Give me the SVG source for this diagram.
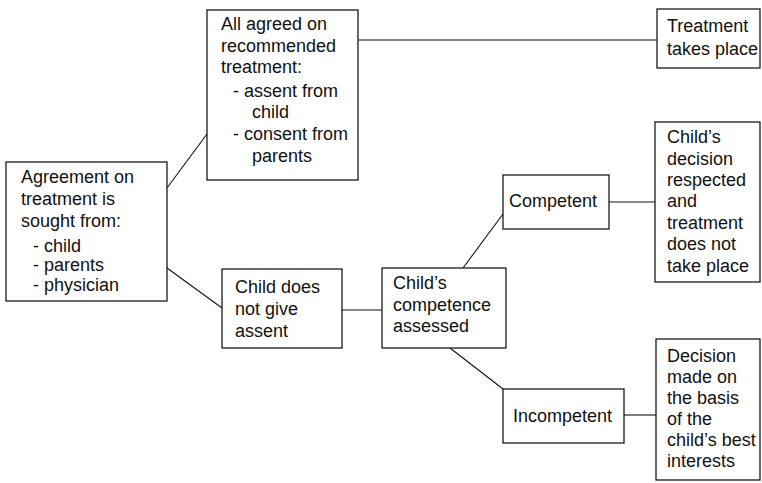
<svg xmlns="http://www.w3.org/2000/svg" width="762" height="483" viewBox="0 0 762 483">
  <style>
    .box { fill: #fff; stroke: #1a1a1a; stroke-width: 1.3; }
    .link { fill: none; stroke: #111; stroke-width: 1.1; }
    text { font-family: "Liberation Sans", Arial, Helvetica, sans-serif; font-size: 18px; fill: #111; }
  </style>
  <rect width="762" height="483" fill="#fff"/>

  <!-- connectors -->
  <g id="connectors">
    <line class="link" x1="167" y1="188" x2="207" y2="134"/>
    <line class="link" x1="167" y1="268" x2="222" y2="308"/>
    <line class="link" x1="358" y1="40" x2="657" y2="40"/>
    <line class="link" x1="342" y1="310" x2="382" y2="310"/>
    <line class="link" x1="463" y1="268" x2="503" y2="214"/>
    <line class="link" x1="450" y1="348" x2="503" y2="389"/>
    <line class="link" x1="609" y1="202" x2="655" y2="202"/>
    <line class="link" x1="624" y1="415" x2="656" y2="415"/>
  </g>

  <!-- starting point -->
  <g id="agreement">
    <rect class="box" x="6" y="162" width="161" height="139"/>
    <text x="21" y="183">Agreement on</text>
    <text x="21" y="205">treatment is</text>
    <text x="21" y="227">sought from:</text>
    <text x="33" y="252">- child</text>
    <text x="33" y="271">- parents</text>
    <text x="33" y="291">- physician</text>
  </g>

  <g id="all-agreed">
    <rect class="box" x="207" y="10" width="151" height="170"/>
    <text x="221" y="30">All agreed on</text>
    <text x="221" y="52">recommended</text>
    <text x="221" y="73">treatment:</text>
    <text x="233" y="97">- assent from</text>
    <text x="252" y="118">child</text>
    <text x="233" y="140">- consent from</text>
    <text x="252" y="162">parents</text>
  </g>

  <g id="treatment-takes-place">
    <rect class="box" x="657" y="9" width="103" height="59"/>
    <text x="667" y="32">Treatment</text>
    <text x="667" y="55">takes place</text>
  </g>

  <g id="no-assent">
    <rect class="box" x="222" y="269" width="120" height="79"/>
    <text x="235" y="293">Child does</text>
    <text x="235" y="315">not give</text>
    <text x="235" y="337">assent</text>
  </g>

  <g id="competence-assessed">
    <rect class="box" x="382" y="268" width="124" height="80"/>
    <text x="393" y="289">Child’s</text>
    <text x="393" y="311">competence</text>
    <text x="393" y="332">assessed</text>
  </g>

  <g id="competent">
    <rect class="box" x="503" y="175" width="106" height="54"/>
    <text x="509" y="207">Competent</text>
  </g>

  <g id="incompetent">
    <rect class="box" x="503" y="389" width="121" height="54"/>
    <text x="513" y="422">Incompetent</text>
  </g>

  <g id="decision-respected">
    <rect class="box" x="655" y="122" width="105" height="160"/>
    <text x="667" y="143">Child’s</text>
    <text x="667" y="165">decision</text>
    <text x="667" y="186">respected</text>
    <text x="667" y="207">and</text>
    <text x="667" y="229">treatment</text>
    <text x="667" y="250">does not</text>
    <text x="667" y="272">take place</text>
  </g>

  <g id="best-interests">
    <rect class="box" x="656" y="339" width="104" height="141"/>
    <text x="667" y="362">Decision</text>
    <text x="667" y="383">made on</text>
    <text x="667" y="404">the basis</text>
    <text x="667" y="425">of the</text>
    <text x="667" y="446">child’s best</text>
    <text x="667" y="467">interests</text>
  </g>
</svg>
